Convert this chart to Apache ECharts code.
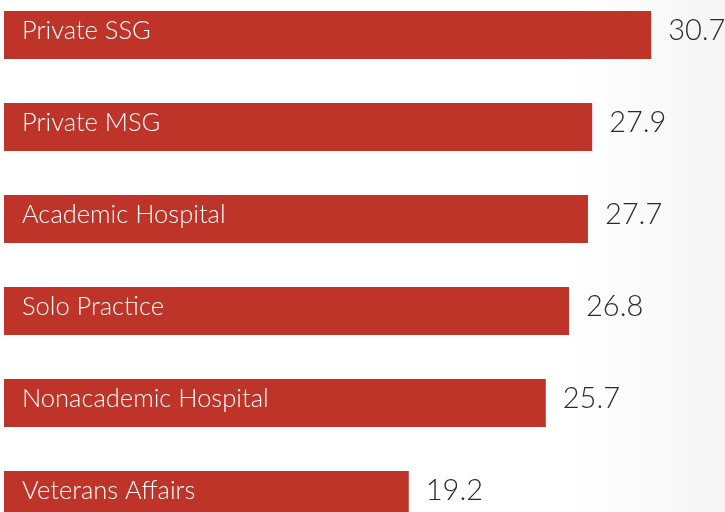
<!DOCTYPE html>
<html><head><meta charset="utf-8">
<script src="https://cdn.jsdelivr.net/npm/echarts@6/dist/echarts.min.js"></script>
<style>html,body{margin:0;padding:0;background:#fff;overflow:hidden;width:725px;height:512px}
#c{position:absolute;left:0;top:-11px;width:725px;height:552px}</style>
</head><body><div id="c"></div>
<script>
const categories = ['Private SSG','Private MSG','Academic Hospital','Solo Practice','Nonacademic Hospital','Veterans Affairs'];
const values = [30.7, 27.9, 27.7, 26.8, 25.7, 19.2];

const chart = echarts.init(document.getElementById('c'));
chart.setOption({
  animation: false,
  backgroundColor: new echarts.graphic.LinearGradient(0, 0, 1, 0, [
    { offset: 0, color: '#ffffff' }, { offset: 0.78, color: '#ffffff' }, { offset: 1, color: '#f5f5f5' }
  ]),
  grid: { left: 4, right: 0, top: 0, bottom: 0, containLabel: false },
  xAxis: { type: 'value', min: 0, max: 34.2, show: false },
  yAxis: {
    type: 'category', data: categories, inverse: true, z: 5,
    axisLine: { show: false }, axisTick: { show: false }, splitLine: { show: false },
    axisLabel: { inside: true, margin: 18, color: '#ffffff', fontFamily: 'Lato', fontWeight: 300,
      fontSize: 25.5, verticalAlign: 'bottom', lineHeight: 8 }
  },
  series: [{
    type: 'bar', data: values, barCategoryGap: '47.8%',
    itemStyle: { color: '#be3428' },
    label: { show: true, position: 'right', distance: 17, color: '#2a2a2a', offset: [0, -4],
      fontFamily: 'Lato', fontWeight: 300, fontSize: 29, formatter: p => p.value.toFixed(1) }
  }]
});
</script></body></html>
